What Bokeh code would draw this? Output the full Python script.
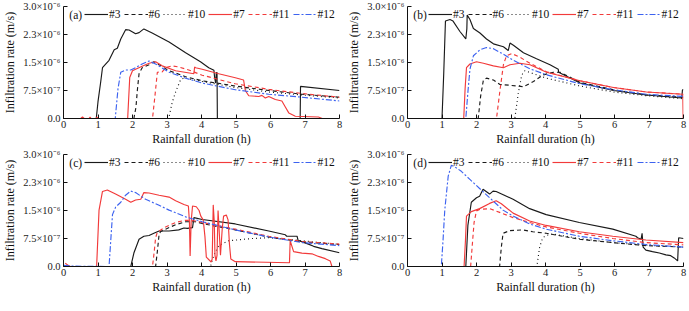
from bokeh.plotting import figure
from bokeh.layouts import gridplot
from bokeh.models import Range1d, Legend, LegendItem, Label, FixedTicker
from bokeh.embed import file_html
from bokeh.resources import INLINE

# Infiltration rate values are in units of 1e-7 m/s; time in hours.
y_ticks = [0.0, 7.5, 15.0, 22.5, 30.0]
y_tick_labels = ["0.0", "7.5×10⁻⁷", "1.5×10⁻⁶", "2.3×10⁻⁶", "3.0×10⁻⁶"]
x_ticks = [0, 1, 2, 3, 4, 5, 6, 7, 8]
series_names = ["#3", "#6", "#10", "#7", "#11", "#12"]
panel_tags = ["(a)", "(b)", "(c)", "(d)"]

# ---------------- panel (a)
a3_t = [0, 0.95, 1.0, 1.08, 1.13, 1.32, 1.47, 1.56, 1.66, 1.80, 1.90, 2.09, 2.19, 2.33, 2.57, 3.06, 3.54, 3.97, 4.21, 4.36, 4.38, 4.41, 4.43, 4.45, 4.46, 6.86, 6.87, 8.0]
a3_v = [0, 0, 4.5, 9.9, 13.6, 15.6, 18.4, 18.8, 21.3, 23.8, 23.7, 22.7, 23.0, 24.0, 22.9, 20.5, 17.6, 15.2, 13.6, 12.9, 11.0, 9.5, 12.3, 12.3, 0, 0, 8.6, 7.5]
a6_t = [0, 2.04, 2.10, 2.14, 2.19, 2.28, 2.48, 2.62, 3.06, 3.54, 4.02, 4.98, 5.95, 6.91, 8.0]
a6_v = [0, 0, 3.0, 7.5, 12.0, 13.6, 14.4, 15.2, 12.8, 11.2, 10.1, 8.7, 7.5, 6.5, 5.7]
a10_t = [0, 3.05, 3.15, 3.25, 3.39, 3.49, 4.02, 4.98, 5.95, 6.91, 8.0]
a10_v = [0, 0, 4.3, 7.1, 10.3, 10.9, 9.9, 8.3, 7.1, 6.3, 5.5]
a7_t = [0, 0.50, 0.55, 0.60, 0.74, 0.77, 0.80, 0.94, 0.97, 1.00, 1.86, 1.92, 2.00, 2.09, 2.28, 2.48, 2.67, 2.86, 3.25, 3.78, 3.80, 3.83, 4.02, 4.50, 4.98, 5.22, 5.27, 5.37, 5.66, 5.75, 5.85, 5.95, 6.14, 6.33, 6.43, 6.53, 6.72, 7.39, 7.50, 8.0]
a7_v = [0, 0, 0.4, 0, 0, 0.4, 0, 0, 0.4, 0, 0, 11.0, 12.8, 13.2, 14.0, 14.8, 15.2, 14.1, 12.8, 12.0, 13.8, 13.6, 13.2, 12.0, 10.9, 10.3, 7.5, 6.1, 5.9, 6.2, 5.5, 5.9, 5.1, 4.7, 3.1, 1.5, 0.6, 0.4, 0, 0]
a11_t = [0, 2.58, 2.65, 2.72, 2.86, 2.96, 3.15, 3.34, 3.63, 4.02, 4.98, 5.95, 6.91, 8.0]
a11_v = [0, 0, 6.0, 12.4, 12.5, 13.6, 14.1, 13.8, 13.0, 11.6, 9.3, 7.8, 6.7, 5.7]
a12_t = [0, 1.50, 1.58, 1.66, 1.80, 1.95, 2.09, 2.28, 2.48, 2.67, 3.06, 3.54, 4.02, 4.98, 5.95, 6.91, 8.0]
a12_v = [0, 0, 8.0, 12.4, 13.0, 13.0, 13.6, 14.6, 15.4, 14.6, 12.4, 10.8, 9.5, 7.7, 6.5, 5.7, 4.7]

# ---------------- panel (b)
b3_t = [0, 1.0, 1.05, 1.10, 1.23, 1.32, 1.52, 1.69, 1.72, 1.73, 1.81, 1.91, 2.10, 2.29, 2.49, 2.78, 2.92, 2.97, 3.07, 3.36, 3.74, 4.13, 4.37, 4.38, 5.0, 5.97, 6.93, 7.95, 7.97, 8.0]
b3_v = [0, 0, 12.0, 26.1, 26.5, 26.1, 23.3, 21.3, 24.0, 27.7, 26.5, 24.1, 22.9, 21.3, 20.0, 19.2, 18.2, 20.2, 19.6, 17.6, 16.0, 14.4, 13.2, 12.4, 9.5, 7.5, 6.3, 5.5, 7.7, 7.7]
b6_t = [0, 2.05, 2.12, 2.20, 2.29, 2.49, 2.68, 2.97, 3.16, 3.36, 3.65, 3.94, 4.23, 4.42, 5.0, 5.97, 6.93, 8.0]
b6_v = [0, 0, 6.0, 10.3, 10.8, 10.3, 9.1, 8.9, 8.7, 8.5, 9.9, 11.7, 12.4, 12.4, 9.7, 7.7, 6.3, 5.7]
b10_t = [0, 3.11, 3.21, 3.31, 3.40, 3.65, 4.03, 5.0, 5.97, 6.93, 8.0]
b10_v = [0, 0, 6.7, 11.6, 12.8, 12.0, 10.8, 8.7, 7.1, 6.1, 5.3]
b7_t = [0, 1.63, 1.67, 1.71, 1.81, 2.0, 2.2, 2.49, 2.78, 2.97, 3.26, 3.55, 4.03, 5.0, 5.97, 6.93, 7.98, 7.99, 8.0]
b7_v = [0, 0, 8.0, 13.6, 14.6, 15.2, 14.8, 14.1, 13.6, 14.4, 14.8, 14.4, 12.4, 10.1, 8.3, 7.1, 6.5, 0, 0]
b11_t = [0, 2.58, 2.68, 2.78, 2.87, 3.02, 3.26, 3.55, 4.03, 5.0, 5.97, 6.93, 8.0]
b11_v = [0, 0, 7.5, 14.4, 16.8, 17.4, 16.4, 14.8, 12.5, 10.1, 8.3, 7.1, 6.5]
b12_t = [0, 1.69, 1.75, 1.81, 1.91, 2.10, 2.29, 2.49, 2.78, 3.07, 3.55, 4.03, 5.0, 5.97, 6.93, 8.0]
b12_v = [0, 0, 7.0, 13.2, 16.8, 18.4, 19.0, 18.7, 17.2, 15.6, 13.3, 11.7, 9.3, 7.7, 6.5, 5.9]

# ---------------- panel (c)
c3_t = [0, 1.95, 2.04, 2.19, 2.33, 2.48, 2.62, 2.77, 3.06, 3.34, 3.49, 3.59, 3.74, 3.78, 4.02, 4.98, 5.95, 6.43, 6.47, 6.77, 6.80, 7.10, 7.25, 7.49, 8.0]
c3_v = [0, 0, 3.6, 7.3, 8.1, 8.3, 8.9, 9.5, 9.5, 9.8, 10.3, 10.2, 10.4, 13.1, 12.6, 11.4, 9.5, 8.5, 8.1, 8.1, 7.0, 6.0, 5.4, 4.8, 3.7]
c6_t = [0, 2.67, 2.72, 2.77, 2.81, 2.96, 3.25, 3.54, 3.83, 4.02, 4.98, 5.95, 6.91, 8.0]
c6_v = [0, 0, 4.0, 8.5, 9.3, 10.0, 11.2, 12.0, 12.0, 11.5, 9.8, 7.9, 6.6, 5.9]
c10_t = [0, 4.26, 4.36, 4.50, 4.79, 5.47, 5.95, 6.91, 8.0]
c10_v = [0, 0, 3.1, 5.6, 6.9, 7.5, 7.7, 6.9, 5.9]
c7_t = [0.05, 0.12, 0.20, 0.96, 1.03, 1.13, 1.27, 1.51, 1.80, 1.95, 2.09, 2.24, 2.33, 2.48, 2.77, 3.06, 3.25, 3.49, 3.62, 3.65, 3.67, 3.70, 3.74, 3.85, 3.93, 3.98, 4.05, 4.10, 4.14, 4.28, 4.31, 4.34, 4.37, 4.39, 4.42, 4.45, 4.48, 4.51, 4.55, 4.60, 4.64, 4.72, 4.77, 4.81, 4.85, 4.98, 6.55, 6.57, 6.67, 6.91, 7.20, 7.39, 7.59, 7.73, 7.78, 8.0]
c7_v = [0.9, 0.4, 0, 0, 15.1, 20.1, 20.5, 19.4, 18.0, 17.2, 17.8, 18.0, 19.8, 19.7, 19.1, 18.6, 17.6, 16.6, 16.2, 12.0, 2.8, 12.0, 16.2, 16.0, 15.0, 13.5, 12.5, 8.0, 2.5, 1.2, 2.0, 16.5, 12.0, 3.0, 1.5, 3.0, 15.0, 10.0, 3.0, 10.0, 13.5, 13.8, 12.5, 6.0, 2.0, 1.3, 1.0, 6.9, 4.0, 3.6, 3.4, 2.7, 2.1, 1.5, 0, 0]
c11_t = [0, 2.58, 2.63, 2.67, 2.72, 2.96, 3.25, 3.54, 3.83, 4.02, 4.98, 5.95, 6.91, 8.0]
c11_v = [0, 0, 4.0, 7.7, 9.2, 10.6, 11.8, 12.4, 12.2, 11.8, 10.0, 8.1, 6.7, 6.0]
c12_t = [0, 0.30, 1.32, 1.37, 1.42, 1.51, 1.66, 1.80, 1.95, 2.09, 2.38, 2.77, 3.06, 3.54, 4.02, 4.98, 5.95, 6.91, 8.0]
c12_v = [0.3, 0.1, 0, 7.0, 13.9, 15.9, 17.2, 19.1, 20.2, 19.8, 18.0, 16.4, 15.1, 13.3, 12.0, 9.8, 7.9, 6.4, 5.6]

# ---------------- panel (d)
d3_t = [0, 1.69, 1.75, 1.85, 2.0, 2.09, 2.19, 2.28, 2.38, 2.48, 2.57, 3.06, 3.54, 4.02, 4.98, 5.95, 6.62, 6.67, 6.77, 6.80, 6.83, 6.91, 7.10, 7.30, 7.49, 7.63, 7.73, 7.83, 7.86, 8.0]
d3_v = [0, 0, 11.0, 17.2, 18.4, 18.8, 20.7, 20.1, 19.4, 20.2, 20.1, 18.0, 15.5, 13.9, 11.8, 10.0, 8.1, 7.7, 7.3, 8.9, 5.2, 4.4, 4.0, 3.6, 3.1, 2.9, 2.3, 1.5, 7.7, 7.5]
d6_t = [0, 2.67, 2.72, 2.77, 2.96, 3.34, 3.63, 4.02, 4.98, 5.95, 6.91, 8.0]
d6_v = [0, 0, 5.2, 8.9, 9.6, 9.8, 9.3, 8.9, 7.3, 6.4, 5.6, 5.2]
d10_t = [0, 3.75, 3.83, 3.92, 4.02, 4.21, 4.98, 5.95, 6.91, 8.0]
d10_v = [0, 0, 5.2, 7.7, 8.3, 8.7, 7.5, 6.4, 5.7, 5.2]
d7_t = [0, 1.64, 1.68, 1.71, 1.85, 2.09, 2.38, 2.57, 2.72, 3.06, 3.54, 4.02, 4.98, 5.95, 6.91, 8.0]
d7_v = [0, 0, 7.0, 13.5, 14.7, 15.5, 16.9, 17.6, 16.8, 14.3, 12.2, 11.0, 9.3, 8.1, 7.1, 6.4]
d11_t = [0, 1.83, 1.88, 1.93, 2.0, 2.09, 2.38, 2.67, 3.06, 3.54, 4.02, 4.98, 5.95, 6.91, 8.0]
d11_v = [0, 0, 6.0, 11.8, 14.9, 15.3, 15.5, 14.5, 13.1, 11.8, 10.6, 8.9, 7.5, 6.4, 5.8]
d12_t = [0, 0.98, 1.03, 1.08, 1.18, 1.27, 1.37, 1.56, 1.80, 2.09, 2.38, 2.77, 3.06, 3.54, 4.02, 4.98, 5.95, 6.91, 8.0]
d12_v = [0, 0, 7.0, 15.1, 24.2, 27.1, 26.7, 25.5, 23.4, 20.9, 18.4, 15.1, 13.5, 11.4, 10.0, 8.1, 6.9, 5.9, 5.2]

panels = [
    [(a3_t, a3_v), (a6_t, a6_v), (a10_t, a10_v), (a7_t, a7_v), (a11_t, a11_v), (a12_t, a12_v)],
    [(b3_t, b3_v), (b6_t, b6_v), (b10_t, b10_v), (b7_t, b7_v), (b11_t, b11_v), (b12_t, b12_v)],
    [(c3_t, c3_v), (c6_t, c6_v), (c10_t, c10_v), (c7_t, c7_v), (c11_t, c11_v), (c12_t, c12_v)],
    [(d3_t, d3_v), (d6_t, d6_v), (d10_t, d10_v), (d7_t, d7_v), (d11_t, d11_v), (d12_t, d12_v)],
]

BLACK = "#1a1a1a"
RED = "#f23a3a"
BLUE = "#3d63f0"
styles = [
    dict(color=BLACK, dash="solid"),
    dict(color=BLACK, dash="4 3"),
    dict(color=BLACK, dash="1 3"),
    dict(color=RED, dash="solid"),
    dict(color=RED, dash="4 3"),
    dict(color=BLUE, dash="6 2 2 2"),
]

FONT = "Liberation Serif"
FW, FH = 276, 112


def make_panel(idx):
    p = figure(frame_width=FW, frame_height=FH, output_backend="svg", toolbar_location=None,
               x_range=Range1d(0, 8), y_range=Range1d(0, 30),
               min_border_left=55, min_border_right=5, min_border_top=6, min_border_bottom=29)
    p.outline_line_color = None
    p.grid.visible = False
    p.background_fill_color = "white"
    p.border_fill_color = "white"
    items = []
    for (t, v), st, name in zip(panels[idx], styles, series_names):
        r = p.line(t, v, line_color=st["color"], line_width=1.15, line_dash=st["dash"])
        items.append(LegendItem(label=name, renderers=[r]))
    leg = Legend(items=items, orientation="horizontal", location=(21, FH - 15),
                 padding=0, margin=0, spacing=3, label_standoff=1, label_width=6,
                 glyph_width=24, glyph_height=14, label_height=14,
                 label_text_font=FONT, label_text_font_size="11.5px", label_text_color="#111111",
                 background_fill_alpha=0, border_line_alpha=0)
    p.add_layout(leg)
    p.add_layout(Label(x=0.17, y=27.8, text=panel_tags[idx], text_font=FONT, text_font_size="11.5px",
                       text_baseline="middle", text_color="#111111"))
    for ax in (p.xaxis[0], p.yaxis[0]):
        ax.axis_line_color = "#111111"
        ax.major_tick_line_color = "#111111"
        ax.major_tick_in = 4
        ax.major_tick_out = 0
        ax.minor_tick_line_color = None
        ax.major_label_text_font = FONT
        ax.major_label_text_font_size = "10.5px"
        ax.major_label_text_color = "#222222"
        ax.axis_label_text_font = FONT
        ax.axis_label_text_font_size = "12px"
        ax.axis_label_text_font_style = "normal"
        ax.axis_label_text_color = "#111111"
    p.xaxis.ticker = FixedTicker(ticks=x_ticks)
    p.yaxis.ticker = FixedTicker(ticks=y_ticks)
    p.yaxis.major_label_overrides = {float(k): s for k, s in zip(y_ticks, y_tick_labels)}
    p.xaxis.axis_label = "Rainfall duration (h)"
    p.yaxis.axis_label = "Infiltration rate (m/s)"
    p.xaxis.major_label_standoff = 2
    p.xaxis.axis_label_standoff = 1
    p.yaxis.major_label_standoff = 3
    p.yaxis.axis_label_standoff = 3
    return p


figs = [make_panel(i) for i in range(4)]
grid = gridplot([[figs[0], figs[1]], [figs[2], figs[3]]], toolbar_location=None)

open("out.html", "w").write(file_html(grid, INLINE))
